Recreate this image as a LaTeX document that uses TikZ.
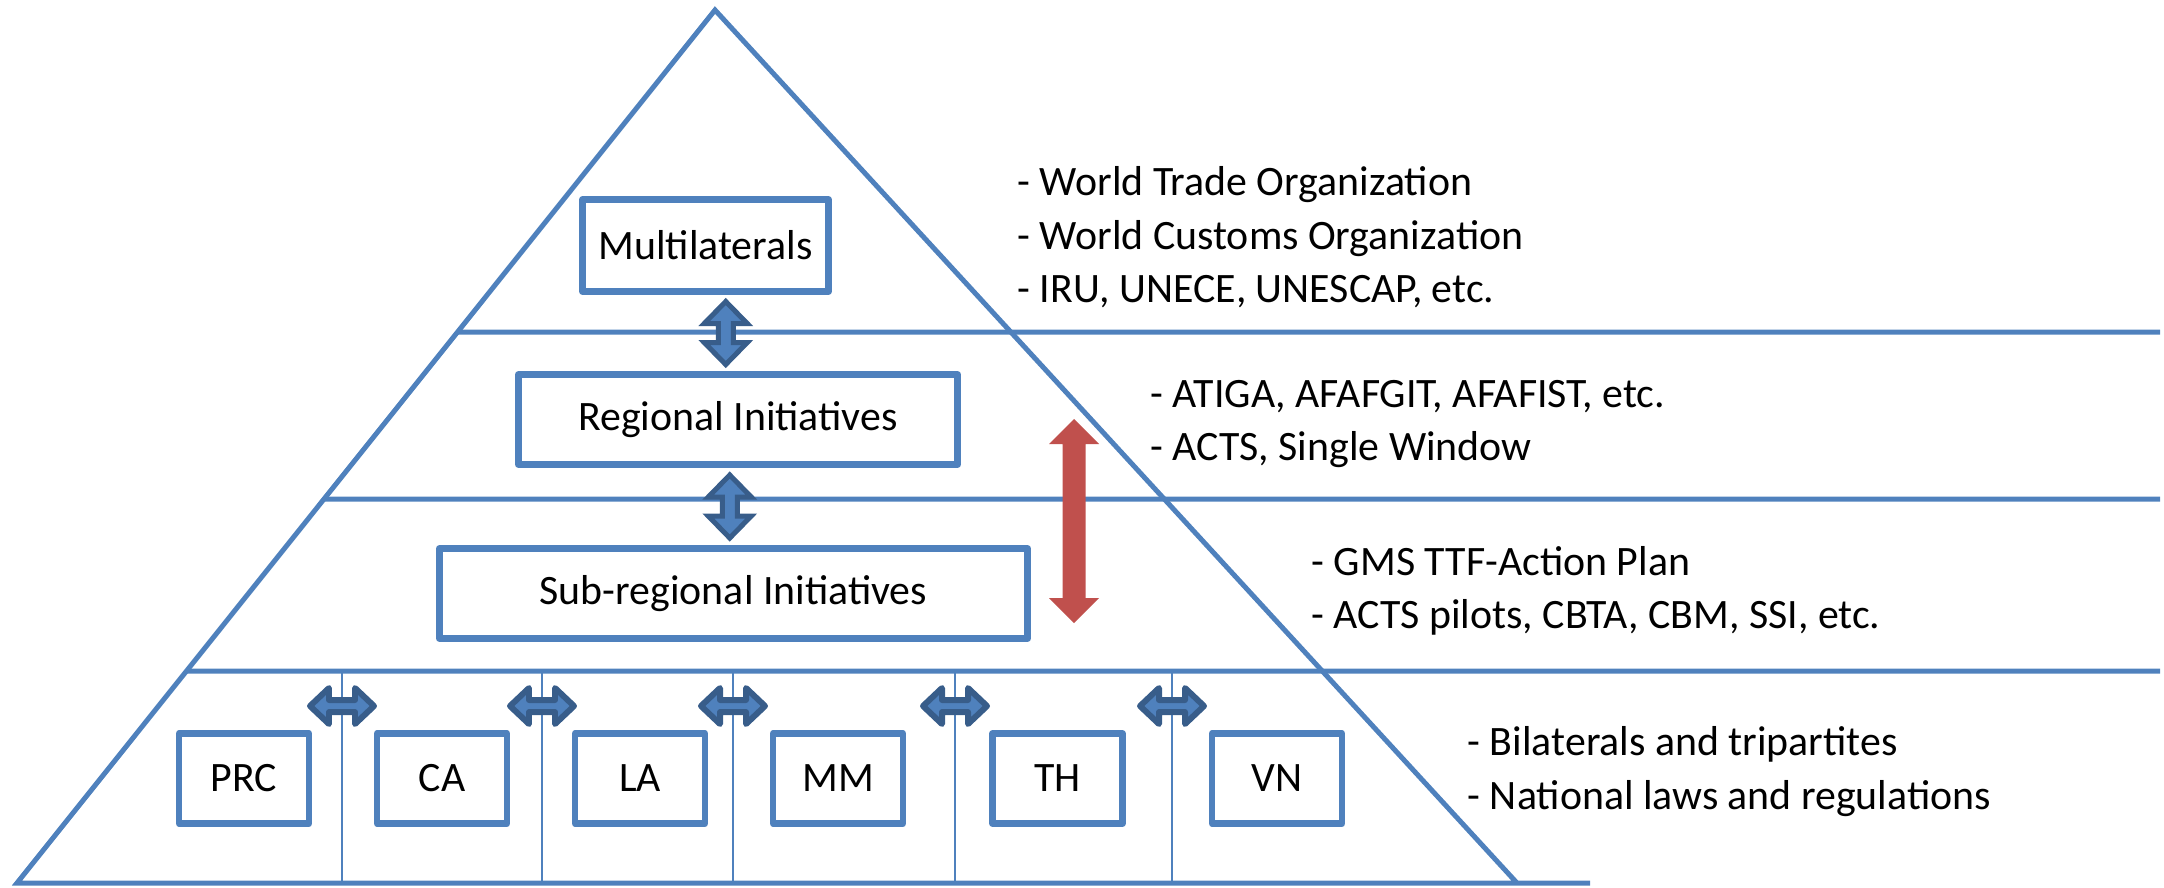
\documentclass[tikz,border=0pt]{standalone}
\usepackage{fontspec}
\setmainfont{Carlito}
\usetikzlibrary{calc}

\definecolor{tierblue}{RGB}{79,129,189}
\definecolor{arrowdark}{RGB}{56,93,138}
\definecolor{arrowred}{RGB}{192,80,77}

\tikzset{
  tier/.style={draw=tierblue, line width=1.42pt},
  tierbox/.style={draw=tierblue, fill=white, line width=1.85pt, line join=round, minimum height=0.9cm, inner sep=0pt},
  countrybox/.style={tierbox, minimum width=1.3cm},
  divider/.style={draw=tierblue, line width=0.65pt},
  bluearrow/.style={draw=arrowdark, fill=tierblue, line width=1.42pt},
  smallarrow/.style={bluearrow, line width=1.7pt, line join=round},
  redarrow/.style={fill=arrowred},
  notes/.style={align=left, anchor=west, inner sep=0pt},
  pics/dblarrow/.style n args={4}{code={
    \path[pic actions] (-#1,0) -- (-#1+#4,#2) -- (-#1+#4,#3) -- (#1-#4,#3) -- (#1-#4,#2) -- (#1,0)
      -- (#1-#4,-#2) -- (#1-#4,-#3) -- (-#1+#4,-#3) -- (-#1+#4,-#2) -- cycle;
  }},
}

\begin{document}
\begin{tikzpicture}[x=0.01cm, y=-0.01cm, font=\fontsize{11.9}{15.2}\selectfont]
  \useasboundingbox (0,0) rectangle (2164,887);

  % pyramid
  \coordinate (apex) at (715,10);
  \coordinate (bl) at (17,883);
  \coordinate (br) at (1517,883);
  \coordinate (baseend) at (1590,883);
  \draw[tier] (baseend) -- (bl) -- (apex) -- (br);

  % tier lines
  \coordinate (t1) at (2160,332);
  \coordinate (t2) at (2160,499);
  \coordinate (t3) at (2160,671);
  \foreach \t in {t1,t2,t3}
    \draw[tier] (intersection of apex--bl and \t--{0,0}|-\t) -- (\t);

  % boxes
  \node[tierbox, minimum width=2.46cm, minimum height=0.92cm] (multi) at (705.5,245.5) {Multilaterals};
  \node[tierbox, minimum width=4.39cm] (regional) at (738,419.5) {Regional Initiatives};
  \node[tierbox, minimum width=5.88cm] (subreg) at (733.5,593.5) {Sub-regional Initiatives};
  \foreach \n/\txt/\x in {prc/PRC/244, ca/CA/442, la/LA/640, mm/MM/838, th/TH/1057.5, vn/VN/1277}
    \node[countrybox] (\n) at (\x,778.5) {\txt};

  % arrows between tiers
  \pic[bluearrow, rotate=90] at ($(multi.south)!0.5!(regional.north)+(4,0)$) {dblarrow={31.5}{21.5}{7.5}{22}};
  \pic[bluearrow, rotate=90] at ($(regional.south)!0.5!(subreg.north)+(-6,0)$) {dblarrow={31.5}{21.5}{7.5}{22}};
  \coordinate (redmid) at (1074,521);
  \pic[redarrow, rotate=90] at (redmid) {dblarrow={102}{25}{11.5}{25}};

  % country dividers and arrows
  \coordinate (arrowrow) at (0,706);
  \foreach \x [count=\i] in {342,542,733,955,1172}{
    \coordinate (gap\i) at (\x,706);
    \draw[divider] (gap\i |- t3) -- (gap\i |- bl);
    \pic[smallarrow] at (gap\i) {dblarrow={32}{18}{6}{19}};
  }

  % notes
  \node[notes] (multinotes) at (1017,237.5) {- World Trade Organization\\- World Customs Organization\\- IRU, UNECE, UNESCAP, etc.};
  \node[notes] (regnotes) at (1150,424) {- ATIGA, AFAFGIT, AFAFIST, etc.\\- ACTS, Single Window};
  \node[notes] (subnotes) at (1311,591) {- GMS TTF-Action Plan\\- ACTS pilots, CBTA, CBM, SSI, etc.};
  \node[notes] (natnotes) at (1467,771.5) {- Bilaterals and tripartites\\- National laws and regulations};
\end{tikzpicture}
\end{document}
